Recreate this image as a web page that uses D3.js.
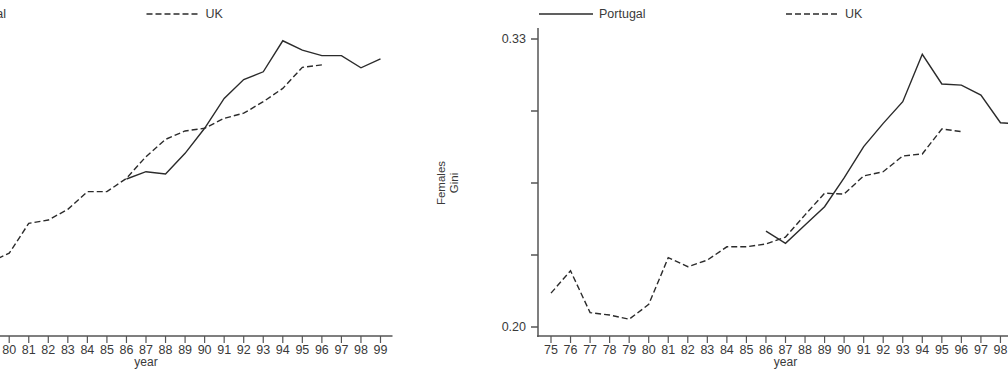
<!DOCTYPE html>
<html>
<head>
<meta charset="utf-8">
<script src="https://cdn.jsdelivr.net/npm/d3@7"></script>
<style>
  body { margin: 0; background: #fff; }
  svg { display: block; font-family: "Liberation Sans", Arial, sans-serif; }
</style>
</head>
<body>
<svg id="chart" width="1008" height="370"></svg>
<script>
// years on the x axis
const years = d3.range(75, 100);
const yearTicks = years.map(d => String(d));

// left panel (males), only 79 onwards is visible in the picture
const maleUkYears = d3.range(79, 97);
const maleUk = [0.2293, 0.2333, 0.2468, 0.2483, 0.2531, 0.2611, 0.2611, 0.2671, 0.2769,
  0.2847, 0.2885, 0.2897, 0.2942, 0.2965, 0.3017, 0.3077, 0.3172, 0.3183];
const malePtYears = d3.range(86, 100);
const malePt = [0.2668, 0.2701, 0.2691, 0.2784, 0.2897, 0.3032, 0.3117, 0.3152, 0.3292,
  0.3250, 0.3225, 0.3225, 0.3170, 0.3210];

// right panel (females)
const femaleUkYears = d3.range(75, 97);
const femaleUk = [0.2153, 0.2254, 0.2065, 0.2054, 0.2035, 0.2102, 0.2313, 0.2272, 0.2302,
  0.2362, 0.2362, 0.2375, 0.2406, 0.2506, 0.2604, 0.2600, 0.2682, 0.2701, 0.2772, 0.2781,
  0.2894, 0.2882];
const femalePtYears = d3.range(86, 100);
const femalePt = [0.2433, 0.2378, 0.2460, 0.2543, 0.2673, 0.2814, 0.2919, 0.3017, 0.3231,
  0.3097, 0.3092, 0.3047, 0.2922, 0.2916];

const yTicks = [0.20, 0.2325, 0.265, 0.2975, 0.33];
const yTickLabels = ['0.20', '', '', '', '0.33'];
const legendLabels = ['Portugal', 'UK'];

const ink = '#2b2b2b';
const axisInk = '#555';
const textInk = '#3a3a3a';

const svg = d3.select('#chart');

function drawPanel(originX, ptYears, pt, ukYears, uk, yLabel) {
  const g = svg.append('g').attr('transform', `translate(${originX},0)`);

  const x = d3.scaleLinear().domain([75, 99]).range([13, 482]);
  const y = d3.scaleLinear().domain([0.20, 0.33]).range([327, 39]);
  const axisY = 336;

  // y axis
  g.append('line')
    .attr('x1', 0).attr('x2', 0).attr('y1', 28).attr('y2', axisY + 1)
    .attr('stroke', axisInk).attr('stroke-width', 1.5);
  const yt = g.selectAll('.ytick').data(yTicks).enter().append('g')
    .attr('transform', d => `translate(0,${y(d)})`);
  yt.append('line').attr('x1', -7).attr('x2', 0)
    .attr('stroke', axisInk).attr('stroke-width', 1.5);
  yt.append('text')
    .attr('x', -12).attr('dy', '0.35em')
    .attr('text-anchor', 'end')
    .attr('font-size', 12.5).attr('fill', textInk)
    .text((d, i) => yTickLabels[i]);

  // x axis
  g.append('line')
    .attr('x1', -1).attr('x2', 494).attr('y1', axisY).attr('y2', axisY)
    .attr('stroke', axisInk).attr('stroke-width', 1.5);
  const xt = g.selectAll('.xtick').data(years).enter().append('g')
    .attr('transform', d => `translate(${x(d)},${axisY})`);
  xt.append('line').attr('y1', 0).attr('y2', 7)
    .attr('stroke', axisInk).attr('stroke-width', 1.2);
  xt.append('text')
    .attr('y', 18)
    .attr('text-anchor', 'middle')
    .attr('font-size', 12.5).attr('fill', textInk)
    .text((d, i) => yearTicks[i]);
  g.append('text')
    .attr('x', x(87)).attr('y', 366)
    .attr('text-anchor', 'middle')
    .attr('font-size', 12).attr('fill', textInk)
    .text('year');

  // y title, two lines rotated
  yLabel.forEach((t, i) => {
    g.append('text')
      .attr('transform', `translate(${-93 + i * 13},${y(0.265)}) rotate(-90)`)
      .attr('text-anchor', 'middle')
      .attr('font-size', 11.5).attr('fill', textInk)
      .text(t);
  });

  const line = d3.line().x(d => x(d[0])).y(d => y(d[1]));

  g.append('path')
    .datum(d3.zip(ukYears, uk))
    .attr('d', line)
    .attr('fill', 'none').attr('stroke', ink)
    .attr('stroke-width', 1.4).attr('stroke-dasharray', '6,3');

  g.append('path')
    .datum(d3.zip(ptYears, pt))
    .attr('d', line)
    .attr('fill', 'none').attr('stroke', ink)
    .attr('stroke-width', 1.4);

  // legend
  const legend = g.append('g').attr('transform', 'translate(0,14)');
  legend.append('line').attr('x1', 1).attr('x2', 55)
    .attr('stroke', ink).attr('stroke-width', 1.5);
  legend.append('text').attr('x', 61).attr('dy', '0.35em')
    .attr('font-size', 12.5).attr('fill', textInk).text(legendLabels[0]);
  legend.append('line').attr('x1', 248).attr('x2', 302)
    .attr('stroke', ink).attr('stroke-width', 1.5).attr('stroke-dasharray', '6,3');
  legend.append('text').attr('x', 307).attr('dy', '0.35em')
    .attr('font-size', 12.5).attr('fill', textInk).text(legendLabels[1]);
}

// left panel: its y axis and title fall outside the picture
drawPanel(-101.5, malePtYears, malePt, maleUkYears, maleUk, []);
drawPanel(538, femalePtYears, femalePt, femaleUkYears, femaleUk, ['Females', 'Gini']);
</script>
</body>
</html>
